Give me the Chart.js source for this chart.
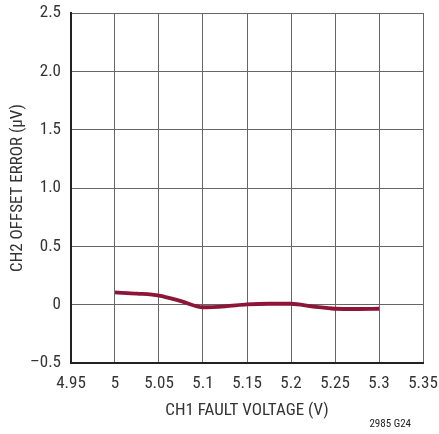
<!DOCTYPE html>
<html>
<head>
<meta charset="utf-8">
<script src="https://cdn.jsdelivr.net/npm/chart.js@4/dist/chart.umd.min.js"></script>
<style>
  html, body { margin: 0; padding: 0; background: #fff; }
  #wrap { width: 439px; height: 434px; position: relative; }
</style>
</head>
<body>
<div id="wrap"><canvas id="offset"></canvas></div>
<script>
const FONT = "'Liberation Sans Narrow', 'Roboto Condensed', 'Liberation Sans', sans-serif";

// CH1 fault voltage (V) and CH2 offset error (uV)
const faultVoltage = [5.0, 5.025, 5.05, 5.075, 5.1, 5.125, 5.15, 5.175, 5.2, 5.225, 5.25, 5.275, 5.3];
const offsetError = [0.105, 0.095, 0.078, 0.03, -0.022, -0.014, 0.002, 0.008, 0.008, -0.016, -0.035, -0.037, -0.035];

const xTicks = [4.95, 5, 5.05, 5.1, 5.15, 5.2, 5.25, 5.3, 5.35];
const yTicks = [-0.5, 0, 0.5, 1.0, 1.5, 2.0, 2.5];

const points = faultVoltage.map((v, i) => ({ x: v, y: offsetError[i] }));

// small figure number in the lower right corner
const footnote = {
  id: 'footnote',
  afterDraw(chart) {
    const ctx = chart.ctx;
    ctx.save();
    ctx.font = "11px " + FONT;
    ctx.fillStyle = '#222';
    ctx.textAlign = 'right';
    ctx.textBaseline = 'middle';
    ctx.fillText('2985 G24', 411, 424);
    ctx.restore();
  }
};

const ctx = document.getElementById('offset').getContext('2d');
const offsetChart = new Chart(ctx, {
  type: 'line',
  data: {
    datasets: [{
      data: points,
      borderColor: '#8c1538',
      borderWidth: 3.8,
      pointRadius: 0,
      tension: 0.4,
      cubicInterpolationMode: 'monotone',
      fill: false
    }]
  },
  options: {
    responsive: true,
    maintainAspectRatio: false,
    animation: false,
    layout: { padding: { left: 0, right: 16, top: 13, bottom: 0 } },
    plugins: { legend: { display: false }, tooltip: { enabled: false } },
    scales: {
      x: {
        type: 'linear',
        min: 4.95,
        max: 5.35,
        afterFit(scale) {
          scale.height = 71;
          scale.paddingLeft = 0;
          scale.paddingRight = 0;
        },
        afterBuildTicks(scale) { scale.ticks = xTicks.map(v => ({ value: v })); },
        grid: { color: '#666', lineWidth: 1, drawTicks: false },
        border: { color: '#222', width: 2 },
        ticks: {
          padding: 11,
          color: '#333',
          font: { family: FONT, size: 17 },
          callback: v => String(Math.round(v * 100) / 100)
        },
        title: {
          display: true,
          text: 'CH1 FAULT VOLTAGE (V)',
          color: '#333',
          font: { family: FONT, size: 17 },
          padding: { top: 0, bottom: 13 }
        }
      },
      y: {
        min: -0.5,
        max: 2.5,
        afterFit(scale) {
          scale.width = 71;
          scale.paddingTop = 0;
          scale.paddingBottom = 0;
        },
        afterBuildTicks(scale) { scale.ticks = yTicks.map(v => ({ value: v })); },
        grid: { color: '#666', lineWidth: 1, drawTicks: false },
        border: { color: '#222', width: 2 },
        ticks: {
          padding: 10,
          color: '#333',
          font: { family: FONT, size: 17 },
          callback: v => v === 0 ? '0' : v < 0 ? '\u2013' + Math.abs(v).toFixed(1) : v.toFixed(1)
        },
        title: {
          display: true,
          text: 'CH2 OFFSET ERROR (\u00b5V)',
          color: '#333',
          font: { family: FONT, size: 17 },
          padding: { top: 8, bottom: 0 }
        }
      }
    }
  },
  plugins: [footnote]
});
</script>
</body>
</html>
